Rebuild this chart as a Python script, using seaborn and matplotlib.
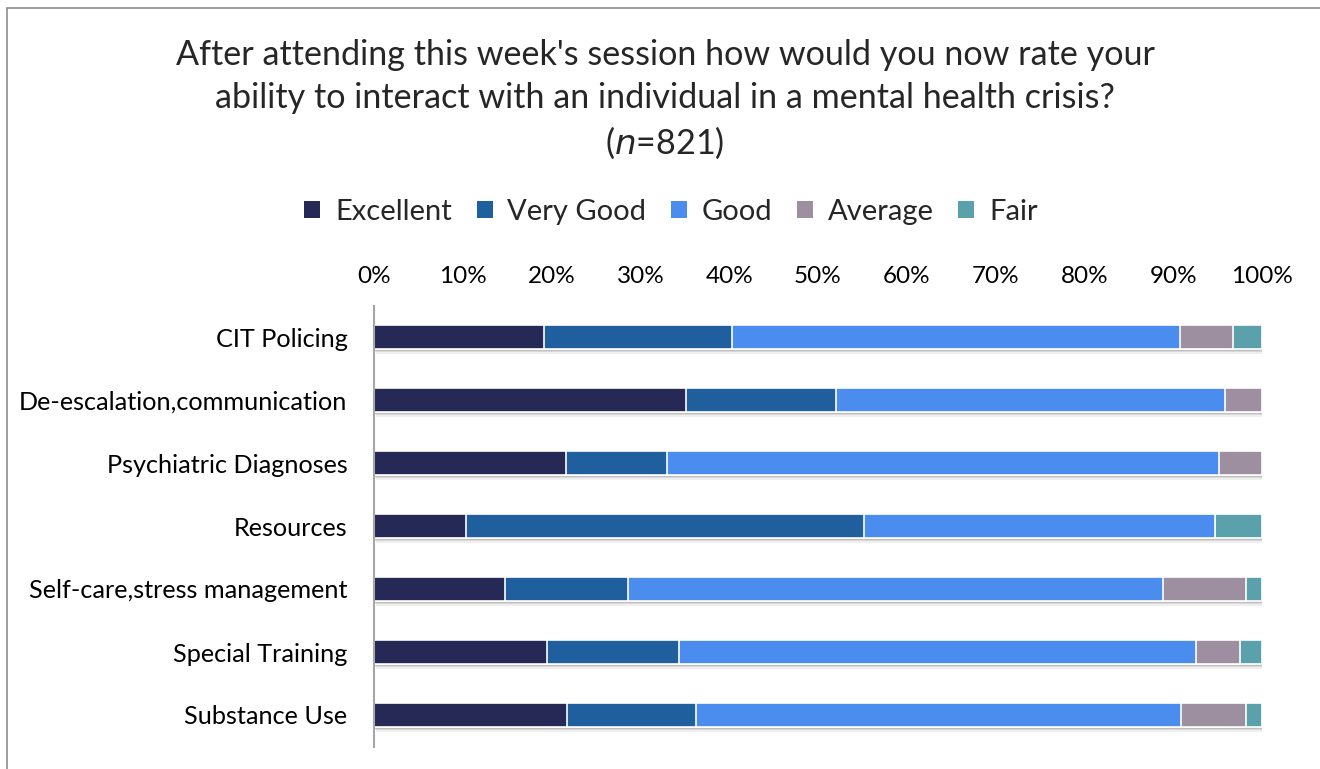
import matplotlib
matplotlib.use("Agg")
import matplotlib.pyplot as plt
import matplotlib.patheffects as pe
from matplotlib.patches import Rectangle
from matplotlib.ticker import PercentFormatter
import seaborn as sns
import pandas as pd
import numpy as np

topics = ["CIT Policing", "De-escalation,communication", "Psychiatric Diagnoses",
          "Resources", "Self-care,stress management", "Special Training", "Substance Use"]
ratings = ["Excellent", "Very Good", "Good", "Average", "Fair"]

excellent = [19.1, 35.1, 21.6, 10.4, 14.7, 19.5, 21.7]
very_good = [21.2, 16.9, 11.4, 44.8, 13.9, 14.8, 14.6]
good      = [50.5, 43.8, 62.2, 39.5, 60.3, 58.3, 54.6]
average   = [5.9, 4.2, 4.8, 0.0, 9.3, 4.9, 7.3]
fair      = [3.3, 0.0, 0.0, 5.3, 1.8, 2.5, 1.8]

colors = ["#262955", "#1F5F9E", "#4A8DEE", "#9D8FA0", "#5AA1AB"]

sns.set_theme(style="white")
plt.rcParams["font.family"] = ["Lato", "DejaVu Sans"]

df = pd.DataFrame({"topic": topics, "Excellent": excellent, "Very Good": very_good,
                   "Good": good, "Average": average, "Fair": fair})
cum = df[ratings].cumsum(axis=1)

fig = plt.figure(figsize=(13.2, 7.69), dpi=100)
ax = fig.add_axes([374 / 1320, 1 - 746.5 / 769, 888 / 1320, 441 / 769])

# stacked bars: draw cumulative totals from the outermost segment inwards
for i in range(len(ratings) - 1, -1, -1):
    sns.barplot(x=cum[ratings[i]], y=df["topic"], color=colors[i], orient="h",
                width=0.38, edgecolor="white", linewidth=1.2, ax=ax,
                label=ratings[i], saturation=1)
    if i == len(ratings) - 1:
        # soft drop shadow under each full bar
        for p in ax.patches:
            p.set_path_effects([pe.SimplePatchShadow(offset=(1.5, -3.5), alpha=0.08,
                                                     shadow_rgbFace="#333333"),
                                pe.SimplePatchShadow(offset=(1, -2.5), alpha=0.12,
                                                     shadow_rgbFace="#333333"),
                                pe.SimplePatchShadow(offset=(0.5, -1.5), alpha=0.15,
                                                     shadow_rgbFace="#333333"),
                                pe.Normal()])

ax.set_xlim(0, 100)
ax.set_ylim(6.5, -0.5)
ax.set_xticks(np.arange(0, 101, 10))
ax.xaxis.set_major_formatter(PercentFormatter(100, decimals=0))
ax.xaxis.tick_top()
ax.tick_params(axis="x", length=0, pad=13, labelsize=17.5, colors="black")
ax.tick_params(axis="y", length=0, pad=19, labelsize=18.2, colors="black")
ax.set_xlabel("")
ax.set_ylabel("")
for s in ["top", "right", "bottom"]:
    ax.spines[s].set_visible(False)
ax.spines["left"].set_color("#A6A6A6")
ax.spines["left"].set_linewidth(1.5)

# legend in rating order
handles, labels = ax.get_legend_handles_labels()
order = [labels.index(r) for r in ratings]
leg = fig.legend([handles[k] for k in order], ratings, loc="center",
                 bbox_to_anchor=(671 / 1320, 1 - 212 / 769), ncol=5, frameon=False,
                 fontsize=21, handlelength=0.55, handleheight=0.55, handletextpad=0.5,
                 columnspacing=0.85)
for h in leg.legend_handles:
    h.set_edgecolor("none")
    h.set_path_effects([])
if ax.get_legend() is not None:
    ax.get_legend().remove()

# title
title_kw = dict(ha="center", va="center", fontsize=24.6)
fig.text(665 / 1320, 1 - 55 / 769, "After attending this week's session how would you now rate your", **title_kw)
fig.text(665 / 1320, 1 - 98 / 769, "ability to interact with an individual in a mental health crisis?", **title_kw)
fig.text(665 / 1320, 1 - 143 / 769, "($\\it{n}$=821)", **title_kw)

# chart border
fig.patches.append(Rectangle((7 / 1320, -0.1), 1.2, 1 - 8 / 769 + 0.1, transform=fig.transFigure,
                             fill=False, edgecolor="#8C8C8C", linewidth=1.2))

fig.savefig("out.png", dpi=100)
